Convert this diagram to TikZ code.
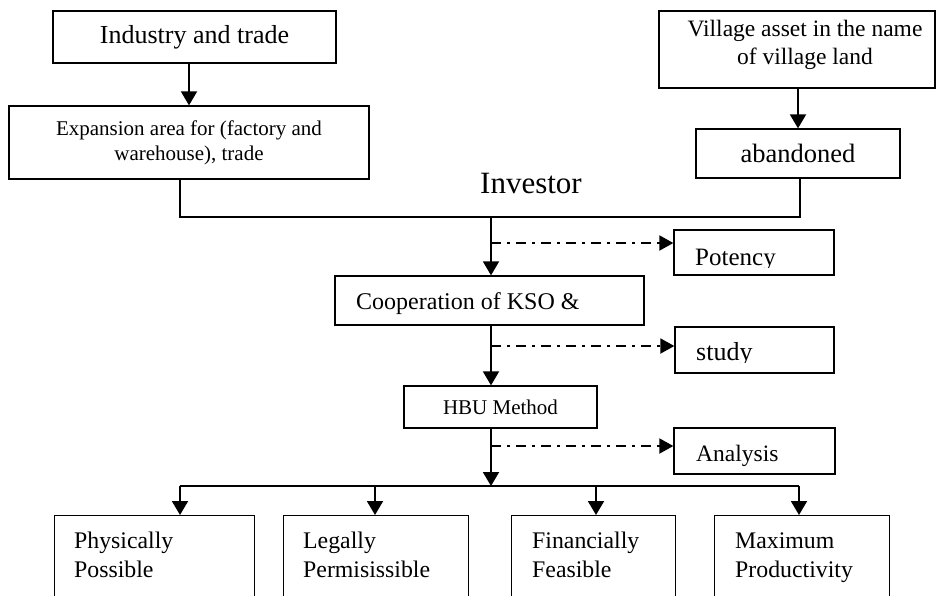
\documentclass[tikz,border=0pt]{standalone}
\usepackage{fontspec}
\setmainfont{Liberation Serif}
\usetikzlibrary{arrows.meta}
\newcommand{\fsz}[2]{\fontsize{#1pt}{#2pt}\selectfont}

\begin{document}
\begin{tikzpicture}[x=1pt,y=-1pt,
  box/.style={draw, line width=1.3pt, inner sep=0pt},
  lowbox/.style={box, anchor=north west, minimum height=120pt},
  lbl/.style={anchor=base west, inner sep=0pt},
  link/.style={line width=1.9pt},
  arr/.style={line width=1.9pt, -{Triangle[length=14pt,width=16pt]}},
  dotarr/.style={line width=1.9pt, dash pattern=on 10pt off 6pt on 3pt off 6pt, -{Triangle[length=14pt,width=15pt]}}]

	\useasboundingbox (0,0) rectangle (936,595);
	\clip (0,0) rectangle (936,595);

	% top row
	\node[box, minimum width=283pt, minimum height=52pt, font=\fsz{26}{31}] (industry) at (194.5,37) {Industry and trade};
	\node[box, minimum width=360pt, minimum height=73pt, align=center, font=\fsz{21}{25}] (expansion) at (189,142.5) {Expansion area for (factory and\\warehouse), trade};
	\node[box, minimum width=276pt, minimum height=77pt] (village) at (797,49.5) {};
	\node[align=center, inner sep=0pt, font=\fsz{23.5}{28}] (villagetxt) at (805,45) {Village asset in the name\\of village land};
	\node[box, minimum width=204pt, minimum height=49pt, font=\fsz{26.5}{31}] (abandoned) at (798,153.5) {abandoned};
	\node[anchor=base, inner sep=0pt, font=\fsz{31}{36}] (investor) at (531,193) {Investor};

	% middle column
	\node[box, minimum width=309pt, minimum height=49pt] (coop) at (489.5,300.5) {};
	\node[lbl, font=\fsz{24}{29}] (cooptxt) at (356,309) {Cooperation of KSO \&};
	\node[box, minimum width=193pt, minimum height=42pt, font=\fsz{21}{25}] (hbu) at (500.5,407) {HBU Method};

	% side boxes
	\node[box, minimum width=160pt, minimum height=45pt] (potency) at (754,252.5) {};
	\node[box, minimum width=159pt, minimum height=46pt] (study) at (754.5,350) {};
	\node[box, minimum width=161pt, minimum height=46pt] (analysis) at (754.5,451) {};
	\begin{scope}
		\clip (674,230) rectangle (834,267.5);
		\node[lbl, font=\fsz{25}{30}] (potencytxt) at (695,265) {Potency};
	\end{scope}
	\begin{scope}
		\clip (675,327) rectangle (834,362.5);
		\node[lbl, font=\fsz{26}{31}] (studytxt) at (696,360) {study};
	\end{scope}
	\node[lbl, font=\fsz{23.5}{28}] (analysistxt) at (696,461) {Analysis};

	% bottom row
	\node[lowbox, minimum width=200pt] (phys) at (54,515) {};
	\node[lowbox, minimum width=185pt] (legal) at (283,515) {};
	\node[lowbox, minimum width=164pt] (fin) at (511,515) {};
	\node[lowbox, minimum width=175pt] (maxp) at (714,515) {};
	\node[lbl, font=\fsz{23.8}{29}] (physa) at (74,548) {Physically};
	\node[lbl, font=\fsz{23.8}{29}] (physb) at (74,577) {Possible};
	\node[lbl, font=\fsz{23.8}{29}] (legala) at (303,548) {Legally};
	\node[lbl, font=\fsz{23.8}{29}] (legalb) at (303,577) {Permisissible};
	\node[lbl, font=\fsz{23.8}{29}] (fina) at (532,548) {Financially};
	\node[lbl, font=\fsz{23.8}{29}] (finb) at (532,577) {Feasible};
	\node[lbl, font=\fsz{23.8}{29}] (maxpa) at (735,548) {Maximum};
	\node[lbl, font=\fsz{23.8}{29}] (maxpb) at (735,577) {Productivity};

	% connectors
	\coordinate (mergeL) at (180,217);
	\coordinate (mergeR) at (800,217);
	\coordinate (mid) at (491,217);
	\coordinate (tapA) at (491,243);
	\coordinate (tapB) at (491,346);
	\coordinate (tapC) at (491,446);
	\coordinate (split) at (491,486);
	\coordinate (splitL) at (180,486);
	\coordinate (dropB) at (375,486);
	\coordinate (dropC) at (596,486);
	\coordinate (splitR) at (799,486);

	\draw[arr] (industry.south -| expansion.north) -- (expansion.north);
	\draw[arr] (village.south -| abandoned.north) -- (abandoned.north);
	\draw[link] (expansion.south -| mergeL) -- (mergeL) -- (mergeR) -- (abandoned.south -| mergeR);
	\draw[arr] (mid) -- (mid |- coop.north);
	\draw[dotarr] (tapA) -- (tapA -| potency.west);
	\draw[arr] (mid |- coop.south) -- (mid |- hbu.north);
	\draw[dotarr] (tapB) -- (tapB -| study.west);
	\draw[arr] (mid |- hbu.south) -- (split);
	\draw[dotarr] (tapC) -- (tapC -| analysis.west);
	\draw[link] (splitL) -- (splitR);
	\draw[arr] (splitL) -- (splitL |- phys.north);
	\draw[arr] (dropB) -- (dropB |- legal.north);
	\draw[arr] (dropC) -- (dropC |- fin.north);
	\draw[arr] (splitR) -- (splitR |- maxp.north);
\end{tikzpicture}
\end{document}
